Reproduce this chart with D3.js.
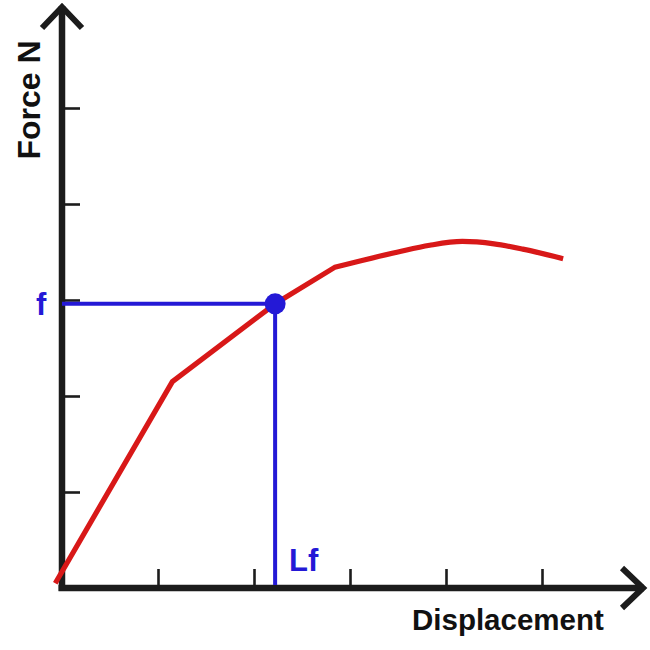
<!DOCTYPE html>
<html><head><meta charset="utf-8">
<script src="https://cdn.jsdelivr.net/npm/d3@7"></script>
<style>html,body{margin:0;padding:0;background:#fff;}svg{display:block;}</style>
</head><body>
<svg id="chart" width="650" height="650"></svg>
<script>
// Data
const curveX = [-0.07, 1.15, 2.22, 2.84, 3.5, 3.83, 4.17, 4.5, 4.8, 5.22];
const curveY = [0.05, 2.15, 2.96, 3.34, 3.5, 3.57, 3.61, 3.585, 3.53, 3.43];
const tickValues = [1, 2, 3, 4, 5];
const pointX = [2.22];
const pointY = [2.96];
const xLabel = "Displacement";
const yLabel = "Force N";
const pointXLabel = "Lf";
const pointYLabel = "f";

const svg = d3.select("#chart");
const x = d3.scaleLinear().domain([0, 6]).range([62, 638]);
const y = d3.scaleLinear().domain([0, 6]).range([588, 12]);
const axisColor = "#1c1c1c";
const red = "#d81818";
const blue = "#2419d6";

// ticks via d3 axes
const gx = svg.append("g").attr("transform", `translate(0,${y(0)})`)
  .call(d3.axisBottom(x).tickValues(tickValues).tickSize(-19).tickFormat(""));
gx.select(".domain").remove();
gx.selectAll(".tick line").attr("stroke", axisColor).attr("stroke-width", 2.6);

const gy = svg.append("g").attr("transform", `translate(${x(0)},0)`)
  .call(d3.axisLeft(y).tickValues(tickValues).tickSize(-18).tickFormat(""));
gy.select(".domain").remove();
gy.selectAll(".tick line").attr("stroke", axisColor).attr("stroke-width", 2.6);

// axis lines with arrows
svg.append("path")
  .attr("d", `M${x(0)},${y(0)+3} L${x(0)},${y(6)-6}`)
  .attr("stroke", axisColor).attr("stroke-width", 6.5).attr("fill", "none");
svg.append("path")
  .attr("d", `M${x(0)-20},${y(6)+16} L${x(0)},${y(6)-5} L${x(0)+20},${y(6)+16}`)
  .attr("stroke", axisColor).attr("stroke-width", 6).attr("fill", "none").attr("stroke-linejoin", "miter");
svg.append("path")
  .attr("d", `M${x(0)-3.5},${y(0)} L${x(6)+6},${y(0)}`)
  .attr("stroke", axisColor).attr("stroke-width", 6.5).attr("fill", "none");
svg.append("path")
  .attr("d", `M${x(6)-16},${y(0)-20} L${x(6)+5},${y(0)} L${x(6)-16},${y(0)+20}`)
  .attr("stroke", axisColor).attr("stroke-width", 6).attr("fill", "none").attr("stroke-linejoin", "miter");

// guide lines
svg.append("line")
  .attr("x1", x(0)).attr("x2", x(pointX[0])).attr("y1", y(pointY[0])).attr("y2", y(pointY[0]))
  .attr("stroke", blue).attr("stroke-width", 4);
svg.append("line")
  .attr("x1", x(pointX[0])).attr("x2", x(pointX[0])).attr("y1", y(pointY[0])).attr("y2", y(0) - 3)
  .attr("stroke", blue).attr("stroke-width", 4);

// curve: straight segments up to the second knee, smooth after it
const pts = curveX.map((v, i) => [v, curveY[i]]);
const lin = d3.line().x(d => x(d[0])).y(d => y(d[1])).curve(d3.curveLinear);
const smooth = d3.line().x(d => x(d[0])).y(d => y(d[1])).curve(d3.curveMonotoneX);
const d1 = lin(pts.slice(0, 4));
const d2 = smooth(pts.slice(3)).replace(/^M/, "L");
svg.append("path")
  .attr("d", d1 + d2)
  .attr("stroke", red).attr("stroke-width", 5.2).attr("fill", "none").attr("stroke-linejoin", "round");

// point
svg.append("circle")
  .attr("cx", x(pointX[0])).attr("cy", y(pointY[0])).attr("r", 10.5).attr("fill", blue);

// labels
const font = "'Liberation Sans', Arial, Helvetica, sans-serif";
svg.append("text").text(xLabel)
  .attr("x", 412).attr("y", 630)
  .attr("font-family", font).attr("font-weight", "bold").attr("font-size", 29.5).attr("fill", "#111");
svg.append("text").text(yLabel)
  .attr("transform", "translate(40,100) rotate(-90)")
  .attr("text-anchor", "middle")
  .attr("font-family", font).attr("font-weight", "bold").attr("font-size", 32).attr("fill", "#111");
svg.append("text").text(pointYLabel)
  .attr("x", 36).attr("y", 315)
  .attr("font-family", font).attr("font-weight", "bold").attr("font-size", 31).attr("fill", blue);
svg.append("text").text(pointXLabel)
  .attr("x", 289).attr("y", 571)
  .attr("font-family", font).attr("font-weight", "bold").attr("font-size", 31).attr("fill", blue);
</script>
</body></html>
